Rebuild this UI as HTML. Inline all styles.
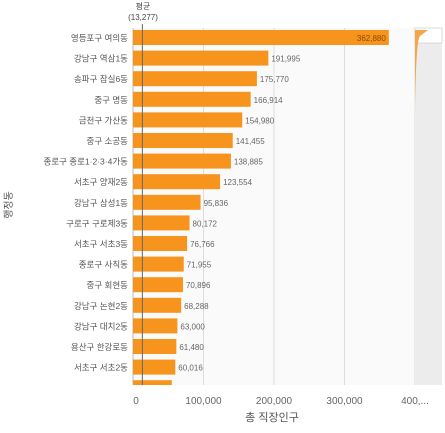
<!DOCTYPE html>
<html><head><meta charset="utf-8"><style>
body{margin:0;background:#fff;font-family:"Liberation Sans","Noto Sans CJK KR",sans-serif;}
svg text{font-family:"Liberation Sans","Noto Sans CJK KR",sans-serif;}
</style></head><body>
<svg id="chart" width="445" height="428" xmlns="http://www.w3.org/2000/svg">
<g id="grid"></g><g id="bars"></g><g id="labels"></g>
<rect x="415" y="28" width="27" height="357" fill="#ececec"/>
<rect x="415" y="28" width="27" height="15" fill="#fff" stroke="#ccc" stroke-width="0.7"/>
<path d="M415,30 L415,110 Q416,40 420,36 L428,30 Z" fill="#f5a54a"/>
<text x="272" y="421" font-size="11" fill="#555" text-anchor="middle">총 직장인구</text>
<text transform="translate(12,205) rotate(-90)" font-size="10" fill="#555" text-anchor="middle">행정동</text>
<text x="143" y="9" font-size="8" fill="#444" text-anchor="middle">평균</text>
<text x="143" y="20" font-size="8" fill="#444" text-anchor="middle">(13,277)</text>
</svg>
<script>
const categories=["영등포구 여의동","강남구 역삼1동","송파구 잠실6동","중구 명동","금천구 가산동","중구 소공동","종로구 종로1·2·3·4가동","서초구 양재2동","강남구 삼성1동","구로구 구로제3동","서초구 서초3동","종로구 사직동","중구 회현동","강남구 논현2동","강남구 대치2동","용산구 한강로동","서초구 서초2동",""];
const values=[362880,191995,175770,166914,154980,141455,138885,123554,95836,80172,76766,71955,70896,68288,63000,61480,60016,55000];
const ticks=[0,100000,200000,300000,400000];
const tickLabels=["0","100,000","200,000","300,000","400,..."];
const average=13277;
const NS="http://www.w3.org/2000/svg";
const x0=133,xs=70.5/100000,top0=30,pitch=20.6,bh=15,bottom=385;
const X=v=>x0+v*xs;
const grid=document.getElementById('grid'),bars=document.getElementById('bars'),labels=document.getElementById('labels');
function mk(tag,attrs,parent,txt){const e=document.createElementNS(NS,tag);for(const k in attrs)e.setAttribute(k,attrs[k]);if(txt!==undefined)e.textContent=txt;parent.appendChild(e);return e;}
const bg=mk('rect',{x:x0,y:28,width:282,height:bottom-28,fill:'#fafafa'},grid);


ticks.forEach((t,i)=>{
 const l=mk('line',{x1:X(t),x2:X(t),y1:28,y2:bottom,stroke:'#ddd','stroke-width':1},grid);
 
 
 const tx=mk('text',{x:X(t)+(i===0?3:0),y:404,'font-size':10,fill:'#666','text-anchor':'middle'},labels,tickLabels[i]);
 
 
});
const ax=mk('line',{x1:x0,x2:x0,y1:28,y2:bottom,stroke:'#bbb'},grid);


values.forEach((v,i)=>{
 const y=top0+i*pitch;
 const hh=Math.min(bh,bottom-y);
 const r=mk('rect',{x:x0,y:y,width:X(v)-x0,height:hh,fill:'#f7941d'},bars);
 
 
 if(categories[i]){
  const c=mk('text',{x:128,y:y+11,'font-size':8.5,fill:'#555','text-anchor':'end'},labels,categories[i]);
  
  
  const inside=i===0;
  const vl=mk('text',{x:inside?X(v)-3:X(v)+3,y:y+11,'font-size':8,fill:inside?'#8a4a00':'#666','text-anchor':inside?'end':'start'},labels,v.toLocaleString('en-US'));
  
  
 }
});
const av=mk('line',{x1:X(average),x2:X(average),y1:24,y2:bottom,stroke:'#666','stroke-width':1},labels);


</script>
</body></html>
